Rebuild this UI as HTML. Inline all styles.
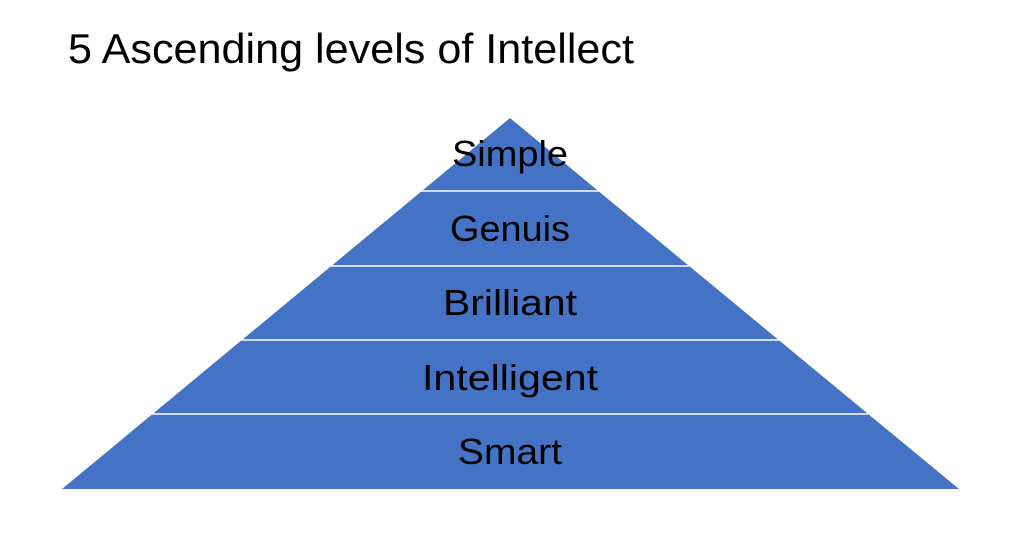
<!DOCTYPE html>
<html><head><meta charset="utf-8"><style>
html,body{margin:0;padding:0;background:#fff;width:1024px;height:533px;overflow:hidden}
</style></head><body>
<svg width="1024" height="533" viewBox="0 0 1024 533" xmlns="http://www.w3.org/2000/svg">
<rect width="1024" height="533" fill="#fff"/>
<text x="68" y="63" font-family="Liberation Sans, sans-serif" font-size="42" fill="#000" textLength="566" lengthAdjust="spacingAndGlyphs">5 Ascending levels of Intellect</text>
<polygon points="510,118 959,489 62,489" fill="#4472C4"/>
<g stroke="#fff" stroke-width="1.5">
<line x1="421" y1="191" x2="599" y2="191"/>
<line x1="331" y1="266" x2="689" y2="266"/>
<line x1="241" y1="340" x2="779" y2="340"/>
<line x1="152" y1="414" x2="868" y2="414"/>
</g>
<g font-family="Liberation Sans, sans-serif" font-size="36" fill="#000" text-anchor="middle">
<text x="510" y="166" textLength="116" lengthAdjust="spacingAndGlyphs">Simple</text>
<text x="510" y="241" textLength="120" lengthAdjust="spacingAndGlyphs">Genuis</text>
<text x="510" y="315" textLength="134" lengthAdjust="spacingAndGlyphs">Brilliant</text>
<text x="510" y="390" textLength="176" lengthAdjust="spacingAndGlyphs">Intelligent</text>
<text x="510" y="464" textLength="104" lengthAdjust="spacingAndGlyphs">Smart</text>
</g>
</svg>
</body></html>
